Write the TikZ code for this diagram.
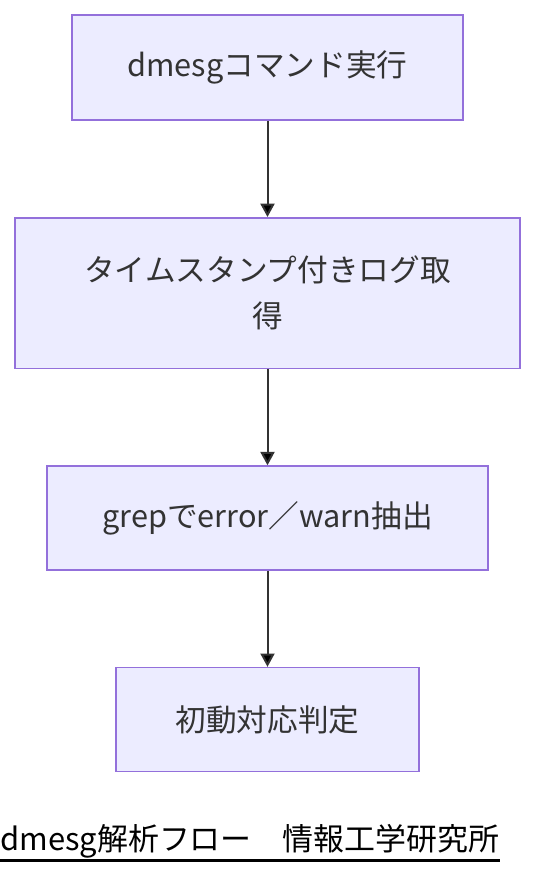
\documentclass[tikz,border=0pt]{standalone}
\usepackage{fontspec}
\setmainfont{Noto Sans CJK JP}
\usepackage{xcolor}
\usepackage{tikz}
\usetikzlibrary{positioning}
\usetikzlibrary{arrows.meta}
\definecolor{boxfill}{HTML}{ECECFF}
\definecolor{boxline}{HTML}{9370DB}
\definecolor{inkcol}{HTML}{333333}
\tikzset{edge/.style = {-{Triangle[length=10pt,width=10.5pt]}, draw=inkcol, line width=1.5pt}}

\begin{document}
\begin{tikzpicture}[x=0.75pt,y=-0.75pt,node distance=72pt,step node/.style={rectangle,draw=boxline,fill=boxfill,line width=1.2pt,text=inkcol,align=center,font=\fontsize{23}{34.5}\selectfont}]
                \useasboundingbox (0,0) rectangle (552,876);
                \node[step node, minimum width=293pt, minimum height=79pt] (1) at (267.5,67.5) {dmesgコマンド実行};
                \node[step node, minimum width=379pt, minimum height=113pt] (2) [below=of 1] {タイムスタンプ付きログ取\\得};
                \node[step node, minimum width=331pt, minimum height=78pt] (3) [below=of 2] {grepでerror／warn抽出};
                \node[step node, minimum width=227pt, minimum height=78pt] (4) [below=of 3] {初動対応判定};

                \path[edge] (1) edge[] node {} (2);
                \path[edge] (2) edge[] node {} (3);
                \path[edge] (3) edge[] node {} (4);

                % caption with underline
                \node[anchor=base west, inner sep=0pt, font=\fontsize{23.2}{27}\selectfont] (cap) at (0,850) {dmesg解析フロー　情報工学研究所};
                \draw[line width=1.8pt] ([yshift=-8pt]cap.base west) -- ([yshift=-8pt]cap.base east);
            \end{tikzpicture}
\end{document}
